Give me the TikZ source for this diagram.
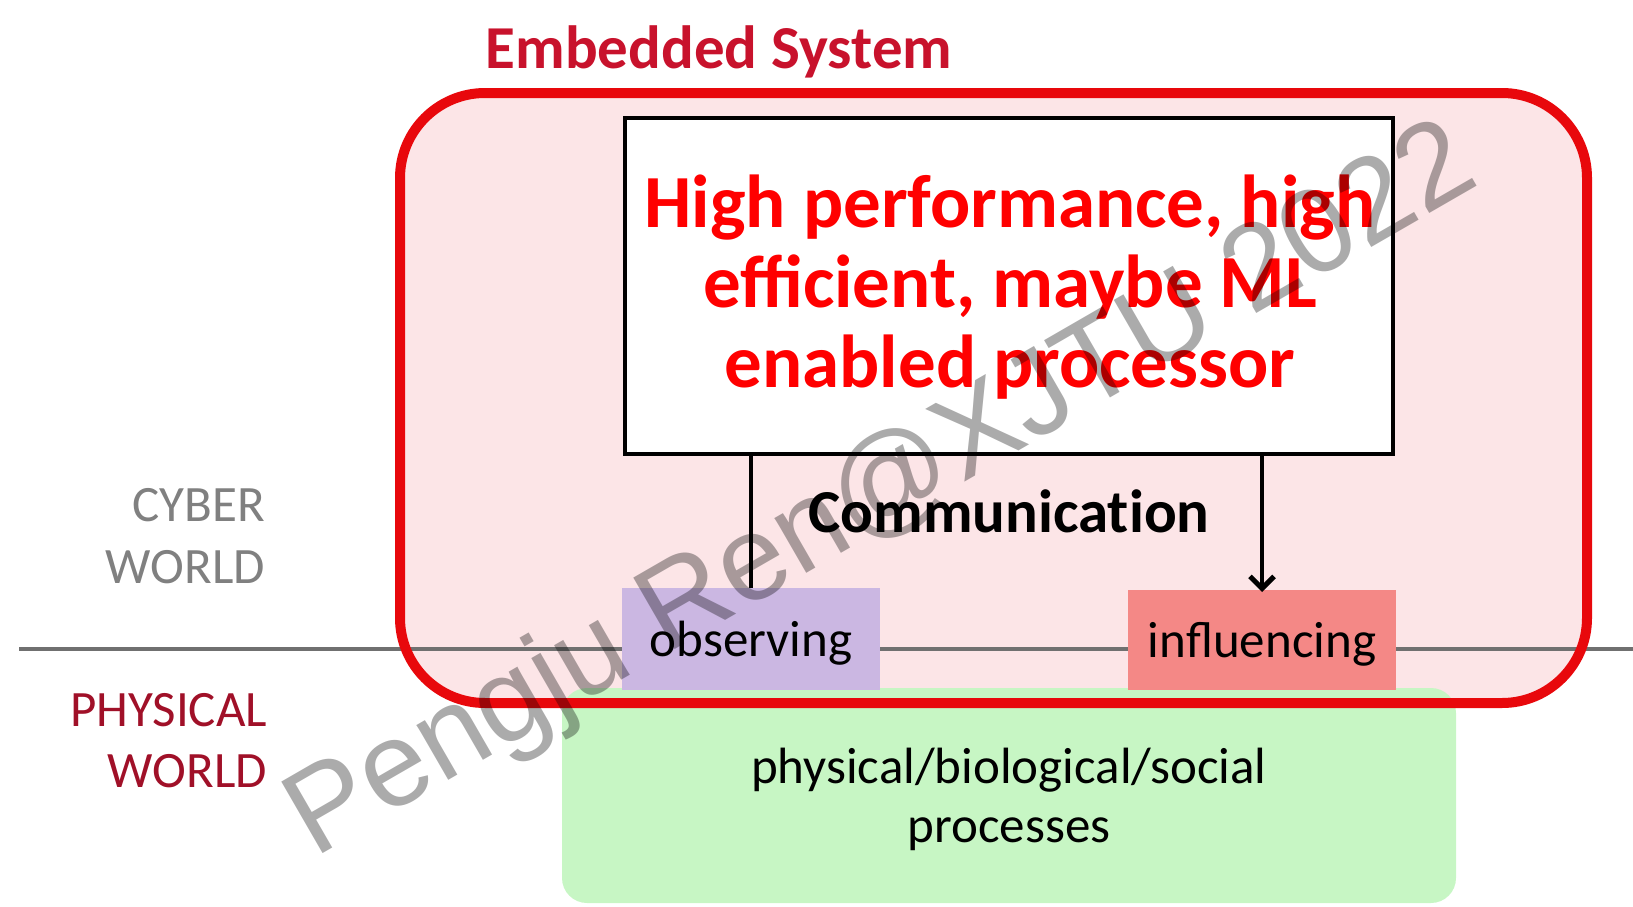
\documentclass[tikz,border=0pt]{standalone}
\usepackage{fontspec}
\setmainfont{Carlito}
\newfontfamily\wmfont{Liberation Sans}
\usetikzlibrary{arrows.meta}

\definecolor{esred}{RGB}{232,8,12}
\definecolor{espink}{RGB}{252,229,231}
\definecolor{titlered}{RGB}{200,18,44}
\definecolor{obsfill}{RGB}{203,183,226}
\definecolor{inffill}{RGB}{244,136,134}
\definecolor{physfill}{RGB}{199,246,196}
\definecolor{divgray}{RGB}{112,112,112}
\definecolor{cybergray}{RGB}{128,128,128}
\definecolor{physred}{RGB}{160,16,40}

\tikzset{
  box/.style={inner sep=0pt, outer sep=0pt},
  txt/.style={inner sep=0pt, outer sep=0pt},
  conn/.style={line width=3.4pt, black},
}

\begin{document}
\begin{tikzpicture}[x=1pt, y=-1pt]
\useasboundingbox (0,0) rectangle (1633,907);

% embedded system area (fill only, outline drawn later)
\node[box, fill=espink, rounded corners=85pt, minimum width=1187pt, minimum height=610pt] (es) at (993.5,398) {};

% physical processes
\node[box, fill=physfill, rounded corners=25pt, minimum width=894pt, minimum height=215pt] (phys) at (1009,795.5) {};

% cyber / physical divider
\coordinate (gl) at (19,649);
\coordinate (gr) at (1633,649);
\draw[divgray, line width=4pt] (gl) -- (gr);

% sensor and actuator boxes
\node[box, fill=obsfill, minimum width=258pt, minimum height=102pt] (obs) at (751,639) {};
\node[box, fill=inffill, minimum width=268pt, minimum height=100pt] (inf) at (1262,640) {};

% processor box
\node[box, draw=black, line width=4.5pt, fill=white, minimum width=768pt, minimum height=336pt] (proc) at (1009,286) {};

% embedded system outline
\draw[esred, line width=10pt, rounded corners=85pt] (es.north west) rectangle (es.south east);

% connectors
\draw[conn] (obs.north |- proc.south) -- (obs.north);
\draw[conn, -{Straight Barb[length=12pt, width=24pt, line width=5pt]}] (inf.north |- proc.south) -- ([yshift=-2pt]inf.north);

% texts
\node[txt, anchor=base, text=titlered, font=\bfseries\fontsize{61}{61}\selectfont] (title) at (719,69) {Embedded System};

\node[txt, anchor=base, text=red, font=\bfseries\fontsize{75}{75}\selectfont] (p1) at (1010,227) {High performance, high};
\node[txt, anchor=base, text=red, font=\bfseries\fontsize{75}{75}\selectfont] (p2) at (1010,307) {efficient, maybe ML};
\node[txt, anchor=base, text=red, font=\bfseries\fontsize{75}{75}\selectfont] (p3) at (1010,387) {enabled processor};

\node[txt, anchor=base, font=\bfseries\fontsize{61}{61}\selectfont\addfontfeatures{Ligatures=NoCommon}] (comm) at (1009,532) {Communication};

\node[txt, anchor=base, font=\fontsize{51}{51}\selectfont] (obst) at (751,656) {observing};
\node[txt, anchor=base, font=\fontsize{51}{51}\selectfont] (inft) at (1262,657) {influencing};

\node[txt, anchor=base, font=\fontsize{51}{51}\selectfont] (ph1) at (1009,783) {physical/biological/social};
\node[txt, anchor=base, font=\fontsize{51}{51}\selectfont] (ph2) at (1009,842) {processes};

\node[txt, anchor=base east, text=cybergray, font=\fontsize{51}{51}\selectfont] (cy1) at (265,521) {CYBER};
\node[txt, anchor=base east, text=cybergray, font=\fontsize{51}{51}\selectfont] (cy2) at (265,583) {WORLD};
\node[txt, anchor=base east, text=physred, font=\fontsize{51}{51}\selectfont] (pw1) at (267,726) {PHYSICAL};
\node[txt, anchor=base east, text=physred, font=\fontsize{51}{51}\selectfont] (pw2) at (267,787) {WORLD};

% watermark
\node[txt, anchor=base west, rotate=30, text=black, text opacity=0.33, font=\wmfont\fontsize{120}{120}\selectfont] (wm) at (314,858) {Pengju Ren@XJTU 2022};
\end{tikzpicture}
\end{document}
